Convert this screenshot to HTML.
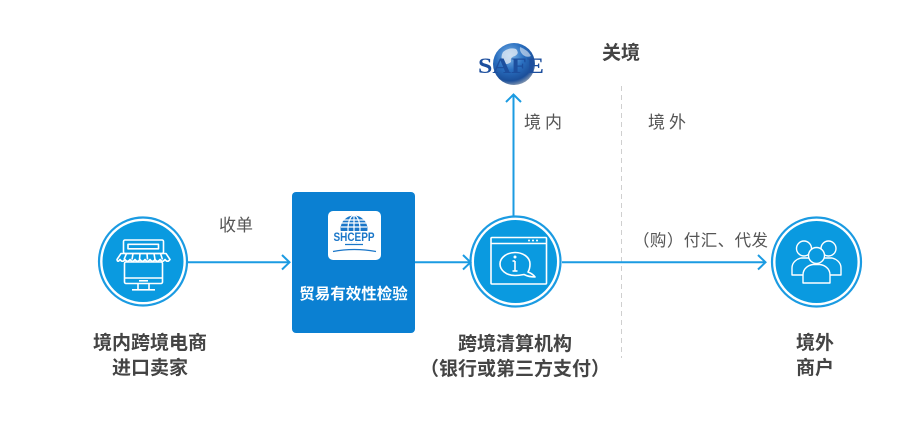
<!DOCTYPE html>
<html><head><meta charset="utf-8">
<style>
html,body{margin:0;padding:0;background:#fff;}
svg{display:block;}
text{font-family:"Liberation Sans","Noto Sans CJK SC",sans-serif;}
text.serif{font-family:"Liberation Serif","DejaVu Serif",serif;}
</style></head>
<body>
<svg width="920" height="426" viewBox="0 0 920 426" xmlns="http://www.w3.org/2000/svg">
<defs>
<radialGradient id="g1" cx="0.4" cy="0.3" r="0.75">
<stop offset="0" stop-color="#7fb6e8"/>
<stop offset="0.45" stop-color="#2a6fc0"/>
<stop offset="0.8" stop-color="#1b4f9a"/>
<stop offset="1" stop-color="#9aa6b5"/>
</radialGradient>
</defs>
<rect width="920" height="426" fill="#fff"/>

<!-- dashed border line -->
<line x1="621.5" y1="86" x2="621.5" y2="358" stroke="#cfcfcf" stroke-width="1" stroke-dasharray="5,4"/>

<!-- connectors -->
<g stroke="#1b9be2" stroke-width="2" fill="none">
<line x1="188" y1="262.3" x2="289" y2="262.3"/>
<polyline points="282,255 289.5,262.3 282,269.5"/>
<line x1="415" y1="262.3" x2="470" y2="262.3"/>
<polyline points="463,255 470.5,262.3 463,269.5"/>
<line x1="562" y1="262.3" x2="765" y2="262.3"/>
<polyline points="758,255 765.5,262.3 758,269.5"/>
<line x1="513.5" y1="216" x2="513.5" y2="95"/>
<polyline points="506,102 513.5,94.5 521,102"/>
</g>

<!-- left circle -->
<circle cx="143" cy="261.5" r="44" fill="none" stroke="#1b9be2" stroke-width="2.2"/>
<circle cx="143" cy="261.5" r="40.5" fill="#0a9ae0"/>
<g stroke="#fff" stroke-width="1.6" fill="none" stroke-linejoin="round">
<rect x="123.5" y="240" width="40" height="13.5" rx="1.5"/>
<rect x="128" y="244.3" width="30.5" height="4.5"/>
<path d="M121,253.5 L166,253.5 L170,259.5 Q167.5,263 165,259.5 Q162.5,263 160,259.5 Q157.5,263 155,259.5 Q152.5,263 150,259.5 Q147.5,263 145,259.5 Q142.5,263 140,259.5 Q137.5,263 135,259.5 Q132.5,263 130,259.5 Q127.5,263 125,259.5 Q122.5,263 120,259.5 Q117.5,263 117,259.5 Z"/>
<line x1="126.5" y1="253.5" x2="124" y2="259.5"/>
<line x1="133" y1="253.5" x2="132" y2="259.5"/>
<line x1="140" y1="253.5" x2="139.5" y2="259.5"/>
<line x1="147" y1="253.5" x2="147.5" y2="259.5"/>
<line x1="154" y1="253.5" x2="155" y2="259.5"/>
<line x1="160.5" y1="253.5" x2="162.5" y2="259.5"/>
<rect x="124.5" y="262" width="38" height="21.5" rx="1.5"/>
<line x1="124.5" y1="278" x2="162.5" y2="278"/>
<line x1="139" y1="280.8" x2="148" y2="280.8"/>
<line x1="138" y1="283.5" x2="138" y2="289.5"/>
<line x1="149" y1="283.5" x2="149" y2="289.5"/>
<line x1="132" y1="289.8" x2="155" y2="289.8"/>
</g>

<!-- blue box -->
<rect x="292" y="192" width="123" height="141" rx="4" fill="#0b80d2"/>
<rect x="328" y="211" width="53" height="49" rx="5" fill="#fff"/>
<circle cx="354" cy="229" r="13.5" fill="#1a76c8"/>
<g stroke="#fff" stroke-width="1.2" fill="none">
<line x1="340" y1="223" x2="368" y2="223"/>
<line x1="341" y1="227" x2="367" y2="227"/>
<ellipse cx="354" cy="229" rx="6" ry="13.5"/>
<line x1="354" y1="215" x2="354" y2="243"/>
<line x1="341" y1="220" x2="367" y2="220"/>
</g>
<rect x="332" y="231" width="44" height="11" fill="#fff"/>
<text x="354" y="241" font-size="11.5" font-weight="bold" fill="#1a76c8" text-anchor="middle" textLength="41" lengthAdjust="spacingAndGlyphs">SHCEPP</text>
<g stroke="#1a76c8" stroke-width="1.2" fill="none">
<line x1="345" y1="244.5" x2="363" y2="244.5"/>
<path d="M333,251.5 Q354,247.5 376,251.5"/>
</g>
<text x="353.5" y="299" font-size="15.5" font-weight="bold" fill="#fff" text-anchor="middle">贸易有效性检验</text>

<!-- middle circle -->
<circle cx="515.5" cy="261.5" r="45" fill="none" stroke="#1b9be2" stroke-width="2.2"/>
<circle cx="515.5" cy="261.5" r="41.5" fill="#0a9ae0"/>
<g stroke="#fff" stroke-width="1.6" fill="none" stroke-linejoin="round">
<rect x="491" y="237.5" width="55.5" height="46.5" rx="1"/>
<line x1="491" y1="243.5" x2="546.5" y2="243.5"/>
<path d="M528,272 Q533,274 535,277 Q529,277 524,274.5 Q519,275.5 515,275.5 C506,275.5 500,270 500,264 C500,257.5 507,252.5 515,252.5 C523.5,252.5 530,257.5 530,264 C530,267 529.5,269.5 528,272 Z"/>
<line x1="515" y1="261" x2="515" y2="271"/>
<line x1="512.5" y1="261" x2="515" y2="261"/>
<line x1="512.5" y1="271" x2="517.5" y2="271"/>
</g>
<circle cx="515" cy="257" r="1.5" fill="#fff"/>
<circle cx="529" cy="240.5" r="1" fill="#fff"/>
<circle cx="533" cy="240.5" r="1" fill="#fff"/>
<circle cx="537" cy="240.5" r="1" fill="#fff"/>

<!-- right circle -->
<circle cx="816.5" cy="262" r="44.5" fill="none" stroke="#1b9be2" stroke-width="2.2"/>
<circle cx="816.5" cy="262" r="41" fill="#0a9ae0"/>
<g stroke="#fff" stroke-width="1.4" fill="#0a9ae0" stroke-linejoin="round">
<path d="M792,275 L792,268 C792,262 797,259 801,258 L808,258 C812,259 816,262 816,268 L816,275 Z"/>
<circle cx="804" cy="248.5" r="7.5"/>
<path d="M817,275 L817,268 C817,262 821,259 825,258 L832,258 C836,259 841,262 841,268 L841,275 Z"/>
<circle cx="828.5" cy="248.5" r="7.5"/>
<path d="M803,283 L803,275 C803,268 809,265 813,264.5 L820,264.5 C824,265 830,268 830,275 L830,283 Z"/>
<circle cx="816.5" cy="255.5" r="8"/>
</g>

<!-- SAFE logo -->
<circle cx="514" cy="64" r="21" fill="url(#g1)"/>
<path d="M503,52 Q509,47 516,49 Q520,53 515,56 Q510,57 511,62 Q506,66 503,62 Q500,57 503,52 Z" fill="#e8eef6" opacity="0.75"/>
<path d="M520,47 Q528,50 531,56 Q527,58 523,55 Q519,51 520,47 Z" fill="#e8eef6" opacity="0.6"/>
<text class="serif" x="478" y="73" font-size="22" font-weight="bold" fill="#1d4f9e" textLength="66" lengthAdjust="spacingAndGlyphs">SAFE</text>

<!-- labels -->
<text x="621" y="59" font-size="19" font-weight="bold" fill="#444" text-anchor="middle">关境</text>
<text x="545" y="128" font-size="17" fill="#555" text-anchor="middle" letter-spacing="4">境内</text>
<text x="669" y="128" font-size="17" fill="#555" text-anchor="middle" letter-spacing="4">境外</text>
<text x="236" y="231" font-size="17" fill="#555" text-anchor="middle">收单</text>
<text x="633" y="246" font-size="16.5" fill="#555" textLength="135" lengthAdjust="spacing">（购）付汇、代发</text>

<g font-size="19" font-weight="bold" fill="#444" text-anchor="middle">
<text x="150" y="349">境内跨境电商</text>
<text x="150" y="374">进口卖家</text>
<text x="515" y="350">跨境清算机构</text>
<text x="515" y="375">（银行或第三方支付）</text>
<text x="815" y="349">境外</text>
<text x="815" y="374">商户</text>
</g>
</svg>
</body></html>
